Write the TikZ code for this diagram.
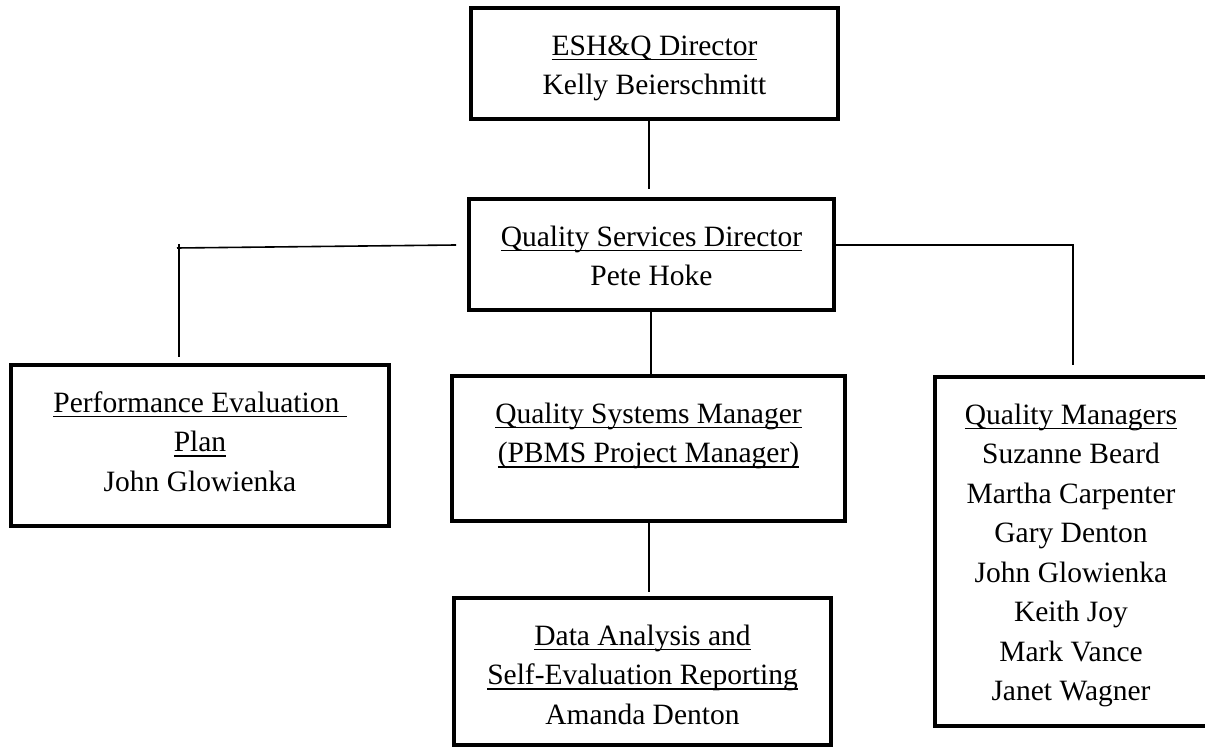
\documentclass[tikz,border=0pt]{standalone}
\usepackage{fontspec}
\setmainfont{Liberation Serif}
\usetikzlibrary{positioning}
\newcommand{\ulhead}[1]{\sbox0{#1}\rlap{\rule[-5pt]{\wd0}{1.5pt}}\usebox0}

\begin{document}
\begin{tikzpicture}
  [x=1pt, y=1pt,
   boxed/.style={draw, line width=3.8pt, shape=rectangle, inner sep=0pt},
   names/.style={align=center, inner sep=0pt, font=\fontsize{29.5}{39.5}\selectfont},
   link/.style={line width=1.6pt}]
  \useasboundingbox (0,0) rectangle (1205,748);

  \node[boxed, minimum width=367, minimum height=111] (esh) at (654.5,684.5) {};
  \node[boxed, minimum width=365, minimum height=111] (qsd) at (651.5,493.5) {};
  \node[boxed, minimum width=378, minimum height=161] (pep) at (200,302.5) {};
  \node[boxed, minimum width=393, minimum height=145] (qsm) at (648.5,299.5) {};
  \node[boxed, minimum width=377, minimum height=147] (data) at (642.5,76.5) {};
  \node[boxed, minimum width=272, minimum height=349] (qm) at (1071,196.5) {};

  \node[names, below=21.35pt of esh.north] (eshtext)
    {\strut\ulhead{ESH\&Q Director}\\Kelly Beierschmitt};
  \node[names, below=21.35pt of qsd.north] (qsdtext)
    {\strut\ulhead{Quality Services Director}\\Pete Hoke};
  \node[names, below=21.35pt of pep.north] (peptext)
    {\strut\ulhead{Performance Evaluation\ }\\\ulhead{Plan}\\John Glowienka};
  \node[names, below=21.35pt of qsm.north] (qsmtext)
    {\strut\ulhead{Quality Systems Manager}\\\ulhead{(PBMS Project Manager)}};
  \node[names, below=21.35pt of data.north] (datatext)
    {\strut\ulhead{Data Analysis and}\\\ulhead{Self-Evaluation Reporting}\\Amanda Denton};
  \node[names, below=21.35pt of qm.north] (qmtext)
    {\strut\ulhead{Quality Managers}\\Suzanne Beard\\Martha Carpenter\\Gary Denton\\
     John Glowienka\\Keith Joy\\Mark Vance\\Janet Wagner};

  \coordinate (ltick) at (179,504);
  \coordinate (lend) at (177,500);
  \draw[link] ([xshift=-5.5pt]esh.south) -- ([xshift=-2.5pt,yshift=8pt]qsd.north);
  \draw[link] ([xshift=-11pt,yshift=9.5pt]qsd.west) -- (lend);
  \draw[link] (ltick) -- ([xshift=-21pt,yshift=6pt]pep.north);
  \draw[link] ([xshift=-3pt,yshift=9.5pt]qsd.east) -| ([xshift=2pt,yshift=10pt]qm.north);
  \draw[link] ([xshift=-0.5pt]qsd.south) -- ([xshift=2.5pt]qsm.north);
  \draw[link] ([xshift=0.5pt]qsm.south) -- ([xshift=6.5pt,yshift=4pt]data.north);
\end{tikzpicture}
\end{document}
